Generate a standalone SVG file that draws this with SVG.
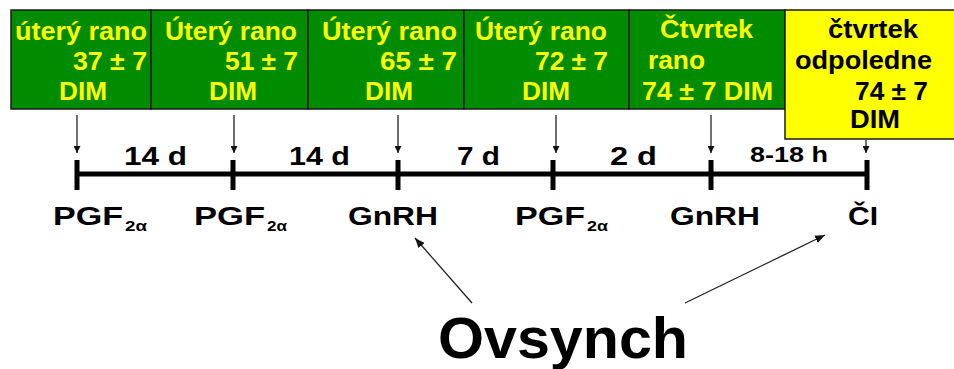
<svg xmlns="http://www.w3.org/2000/svg" width="954" height="369" viewBox="0 0 954 369">
<defs>
<style>
.box{fill:#008c00;stroke:#1a1a1a;stroke-width:1.5}
.ybox{fill:#ffff00;stroke:#1a1a1a;stroke-width:1.5}
.bt{font-family:"Liberation Sans",Arial,sans-serif;font-weight:bold;font-size:25px;fill:#ffff00}
.yt{font-family:"Liberation Sans",Arial,sans-serif;font-weight:bold;font-size:25px;fill:#000}
.tl{font-family:"Liberation Sans",Arial,sans-serif;font-weight:bold;font-size:26px;fill:#000}
.lb{font-family:"Liberation Sans",Arial,sans-serif;font-weight:bold;font-size:26px;fill:#000}
.sub{font-family:"Liberation Sans",Arial,sans-serif;font-weight:bold;font-size:15px;fill:#000}
.big{font-family:"Liberation Sans",Arial,sans-serif;font-weight:bold;font-size:58px;fill:#000}
.ar{stroke:#222;stroke-width:1.3;fill:none}
.tick{stroke:#000;stroke-width:5}
</style>
<marker id="ah" viewBox="0 0 10 10" refX="10" refY="5" markerWidth="7" markerHeight="7" markerUnits="userSpaceOnUse" orient="auto">
<path d="M0,0 L10,5 L0,10 z" fill="#111"/>
</marker>
<marker id="ah2" viewBox="0 0 10 10" refX="10" refY="5" markerWidth="10" markerHeight="10" markerUnits="userSpaceOnUse" orient="auto">
<path d="M0,1 L10,5 L0,9 z" fill="#111"/>
</marker>
</defs>

<g id="box1">
<rect class="box" x="11" y="10" width="140" height="99"/>
<text class="bt" x="15" y="40" textLength="132" lengthAdjust="spacingAndGlyphs">úterý rano</text>
<text class="bt" x="73" y="70" textLength="74" lengthAdjust="spacingAndGlyphs">37 ± 7</text>
<text class="bt" x="59" y="100" textLength="48" lengthAdjust="spacingAndGlyphs">DIM</text>
</g>
<g id="box2">
<rect class="box" x="151" y="10" width="157" height="99"/>
<text class="bt" x="165" y="40" textLength="132" lengthAdjust="spacingAndGlyphs">Úterý rano</text>
<text class="bt" x="225" y="70" textLength="73" lengthAdjust="spacingAndGlyphs">51 ± 7</text>
<text class="bt" x="209" y="100" textLength="48" lengthAdjust="spacingAndGlyphs">DIM</text>
</g>
<g id="box3">
<rect class="box" x="308" y="10" width="156" height="99"/>
<text class="bt" x="322" y="40" textLength="135" lengthAdjust="spacingAndGlyphs">Úterý rano</text>
<text class="bt" x="380" y="70" textLength="77" lengthAdjust="spacingAndGlyphs">65 ± 7</text>
<text class="bt" x="365" y="100" textLength="48" lengthAdjust="spacingAndGlyphs">DIM</text>
</g>
<g id="box4">
<rect class="box" x="464" y="10" width="165" height="99"/>
<text class="bt" x="475" y="40" textLength="132" lengthAdjust="spacingAndGlyphs">Úterý rano</text>
<text class="bt" x="535" y="70" textLength="73" lengthAdjust="spacingAndGlyphs">72 ± 7</text>
<text class="bt" x="522" y="100" textLength="48" lengthAdjust="spacingAndGlyphs">DIM</text>
</g>
<g id="box5">
<rect class="box" x="629" y="10" width="156" height="99"/>
<text class="bt" x="660" y="38" textLength="93" lengthAdjust="spacingAndGlyphs">Čtvrtek</text>
<text class="bt" x="648" y="69" textLength="57" lengthAdjust="spacingAndGlyphs">rano</text>
<text class="bt" x="642" y="100" textLength="131" lengthAdjust="spacingAndGlyphs">74 ± 7 DIM</text>
</g>
<g id="box6">
<rect class="ybox" x="785" y="10" width="175" height="129"/>
<text class="yt" x="828" y="38" textLength="90" lengthAdjust="spacingAndGlyphs">čtvrtek</text>
<text class="yt" x="795" y="69" textLength="137" lengthAdjust="spacingAndGlyphs">odpoledne</text>
<text class="yt" x="855" y="100" textLength="73" lengthAdjust="spacingAndGlyphs">74 ± 7</text>
<text class="yt" x="850" y="128" textLength="50" lengthAdjust="spacingAndGlyphs">DIM</text>
</g>

<g id="timeline">
<line x1="77" y1="174" x2="867" y2="174" stroke="#000" stroke-width="5"/>
<line class="tick" x1="77" y1="160" x2="77" y2="190"/>
<line class="tick" x1="233" y1="160" x2="233" y2="190"/>
<line class="tick" x1="398" y1="160" x2="398" y2="190"/>
<line class="tick" x1="553" y1="160" x2="553" y2="190"/>
<line class="tick" x1="711" y1="160" x2="711" y2="190"/>
<line class="tick" x1="867" y1="160" x2="867" y2="190"/>
<text class="tl" x="124" y="165" textLength="63" lengthAdjust="spacingAndGlyphs">14 d</text>
<text class="tl" x="289" y="165" textLength="61" lengthAdjust="spacingAndGlyphs">14 d</text>
<text class="tl" x="457" y="165" textLength="43" lengthAdjust="spacingAndGlyphs">7 d</text>
<text class="tl" x="610" y="165" textLength="47" lengthAdjust="spacingAndGlyphs">2 d</text>
<text class="tl" x="750" y="162" style="font-size:22px" textLength="78" lengthAdjust="spacingAndGlyphs">8-18 h</text>
</g>

<g id="labels">
<text class="lb" x="53" y="225" textLength="70" lengthAdjust="spacingAndGlyphs">PGF</text>
<text class="sub" x="125" y="231" textLength="22" lengthAdjust="spacingAndGlyphs">2α</text>
<text class="lb" x="194" y="225" textLength="71" lengthAdjust="spacingAndGlyphs">PGF</text>
<text class="sub" x="267" y="231" textLength="20" lengthAdjust="spacingAndGlyphs">2α</text>
<text class="lb" x="348" y="225" textLength="90" lengthAdjust="spacingAndGlyphs">GnRH</text>
<text class="lb" x="515" y="225" textLength="70" lengthAdjust="spacingAndGlyphs">PGF</text>
<text class="sub" x="587" y="231" textLength="21" lengthAdjust="spacingAndGlyphs">2α</text>
<text class="lb" x="670" y="225" textLength="90" lengthAdjust="spacingAndGlyphs">GnRH</text>
<text class="lb" x="848" y="225" textLength="30" lengthAdjust="spacingAndGlyphs">ČI</text>
</g>

<g id="ovsynch">
<text class="big" x="438" y="358" textLength="250" lengthAdjust="spacingAndGlyphs">Ovsynch</text>
</g>

<g id="connectors">
<line class="ar" x1="77" y1="115" x2="77" y2="153" marker-end="url(#ah)"/>
<line class="ar" x1="234" y1="115" x2="234" y2="153" marker-end="url(#ah)"/>
<line class="ar" x1="398" y1="115" x2="398" y2="153" marker-end="url(#ah)"/>
<line class="ar" x1="556" y1="115" x2="556" y2="153" marker-end="url(#ah)"/>
<line class="ar" x1="711" y1="115" x2="711" y2="153" marker-end="url(#ah)"/>
<line class="ar" x1="866" y1="140" x2="866" y2="153" marker-end="url(#ah)"/>
<line class="ar" x1="472" y1="303" x2="415" y2="238" marker-end="url(#ah2)"/>
<line class="ar" x1="685" y1="303" x2="825" y2="235" marker-end="url(#ah2)"/>
</g>
</svg>
